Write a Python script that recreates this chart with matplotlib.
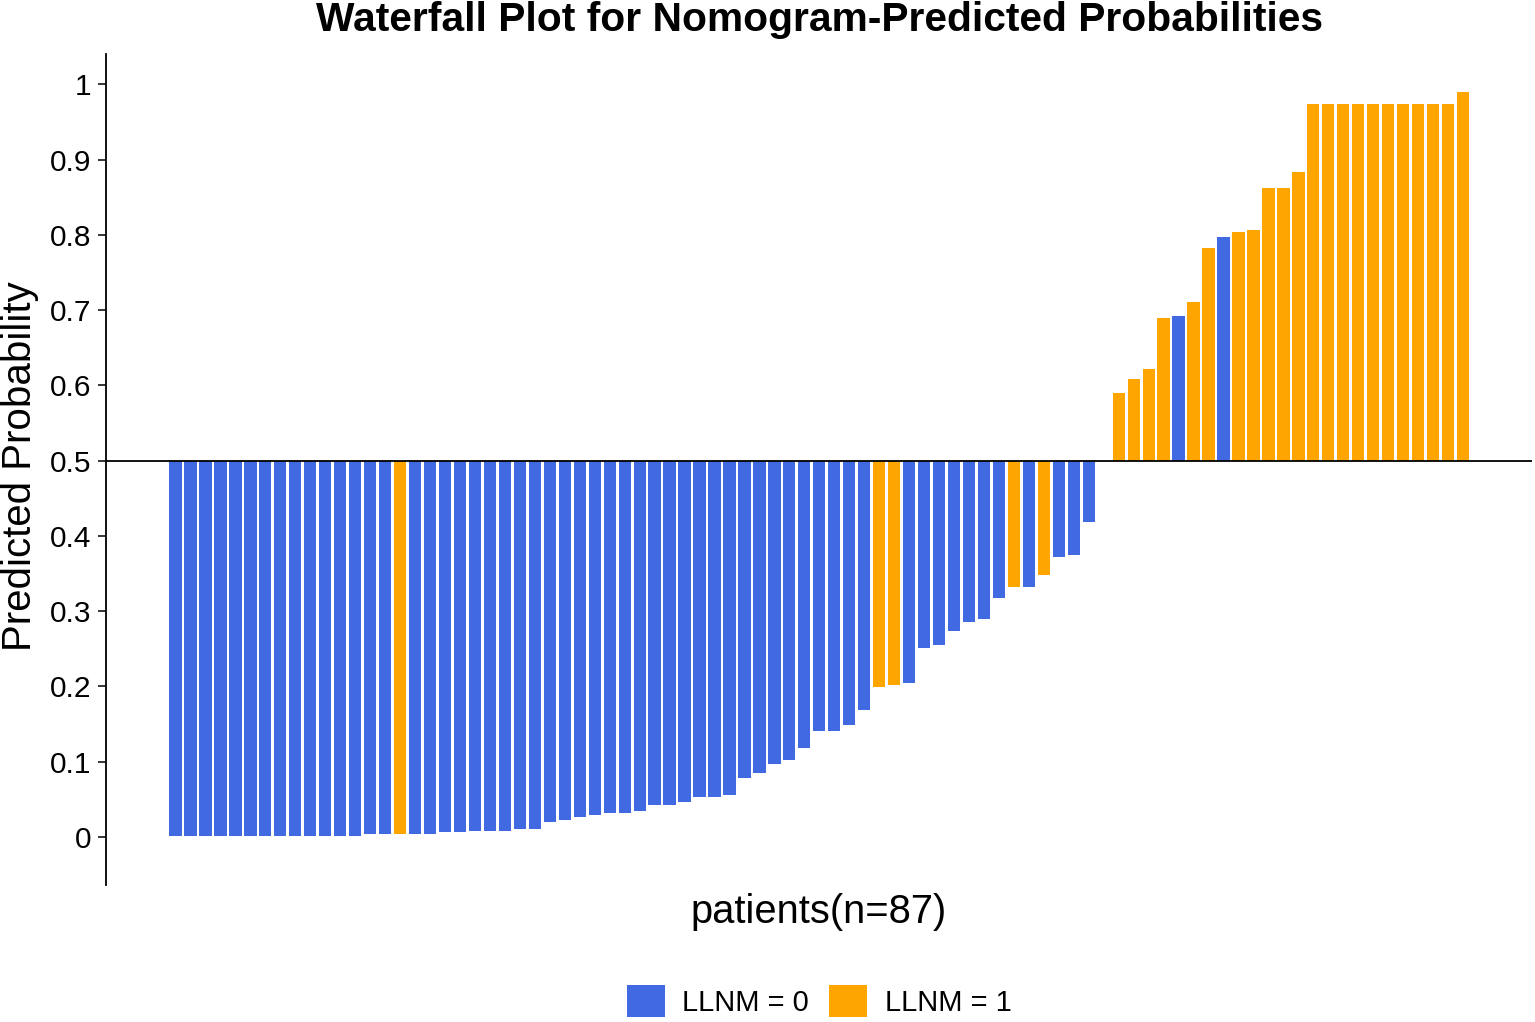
import matplotlib
matplotlib.use("Agg")
import matplotlib.pyplot as plt
from matplotlib.patches import Patch
import numpy as np

plt.rcParams['font.family'] = ['Liberation Sans', 'DejaVu Sans']

# predicted probability per patient, sorted ascending
prob = [0.001, 0.001, 0.001, 0.001, 0.001, 0.001, 0.001, 0.001, 0.001, 0.001,
        0.001, 0.001, 0.001, 0.004, 0.004, 0.004, 0.004, 0.004, 0.0066, 0.0066,
        0.0084, 0.0084, 0.0084, 0.011, 0.011, 0.020, 0.0225, 0.027, 0.0296, 0.032,
        0.032, 0.034, 0.043, 0.043, 0.046, 0.053, 0.053, 0.055, 0.078, 0.085,
        0.097, 0.102, 0.118, 0.141, 0.141, 0.148, 0.169, 0.199, 0.202, 0.204,
        0.251, 0.255, 0.274, 0.286, 0.290, 0.318, 0.332, 0.332, 0.348, 0.372,
        0.374, 0.419, 0.500, 0.590, 0.608, 0.622, 0.690, 0.692, 0.711, 0.783,
        0.797, 0.804, 0.806, 0.862, 0.862, 0.883, 0.974, 0.974, 0.974, 0.974,
        0.974, 0.974, 0.974, 0.974, 0.974, 0.974, 0.990]
# observed LLNM status per patient
llnm = [0, 0, 0, 0, 0, 0, 0, 0, 0, 0,
        0, 0, 0, 0, 0, 1, 0, 0, 0, 0,
        0, 0, 0, 0, 0, 0, 0, 0, 0, 0,
        0, 0, 0, 0, 0, 0, 0, 0, 0, 0,
        0, 0, 0, 0, 0, 0, 0, 1, 1, 0,
        0, 0, 0, 0, 0, 0, 1, 0, 1, 0,
        0, 0, 0, 1, 1, 1, 1, 0, 1, 1,
        0, 1, 1, 1, 1, 1, 1, 1, 1, 1,
        1, 1, 1, 1, 1, 1, 1]
group_labels = ['LLNM = 0', 'LLNM = 1']
group_colors = ['#4169E1', '#FFA500']
yticks = [0, 0.1, 0.2, 0.3, 0.4, 0.5, 0.6, 0.7, 0.8, 0.9, 1]
yticklabels = ['0', '0.1', '0.2', '0.3', '0.4', '0.5', '0.6', '0.7', '0.8', '0.9', '1']

prob = np.array(prob)
x = np.arange(len(prob))
cols = [group_colors[g] for g in llnm]

fig = plt.figure(figsize=(15.35, 10.22), dpi=100)
ax = fig.add_axes([0.069, 0.134, 0.929, 0.813])

# bars hang from / rise above the 0.5 threshold
ax.bar(x, prob - 0.5, bottom=0.5, width=0.82, color=cols, linewidth=0)
ax.axhline(0.5, color='black', lw=1.3)

ax.set_xlim(-4.65, 90.6)
ax.set_ylim(-0.064, 1.04)
ax.set_yticks(yticks)
ax.set_yticklabels(yticklabels)
ax.set_xticks([])
for s in ['top', 'right', 'bottom']:
    ax.spines[s].set_visible(False)
ax.spines['left'].set_linewidth(1.3)
ax.tick_params(axis='y', length=5.5, width=1.1, pad=5, labelsize=21.5)

fig.text(0.5336, 1 - 20 / 1022, 'Waterfall Plot for Nomogram-Predicted Probabilities',
         ha='center', va='center', fontsize=29.3, fontweight='bold')
fig.text(0.5336, 1 - 912 / 1022, 'patients(n=87)', ha='center', va='center', fontsize=28.7)
fig.text(20 / 1535, 1 - 466 / 1022, 'Predicted Probability', ha='center', va='center',
         rotation=90, fontsize=29)

handles = [Patch(facecolor=c, edgecolor='none') for c in group_colors]
fig.legend(handles, group_labels, loc='center', bbox_to_anchor=(0.5336, 1 - 1001 / 1022),
           ncol=2, frameon=False, fontsize=21, handlelength=1.3, handleheight=1.3,
           handletextpad=0.6, columnspacing=0.7, borderaxespad=0)

fig.savefig('out.png', dpi=100)
